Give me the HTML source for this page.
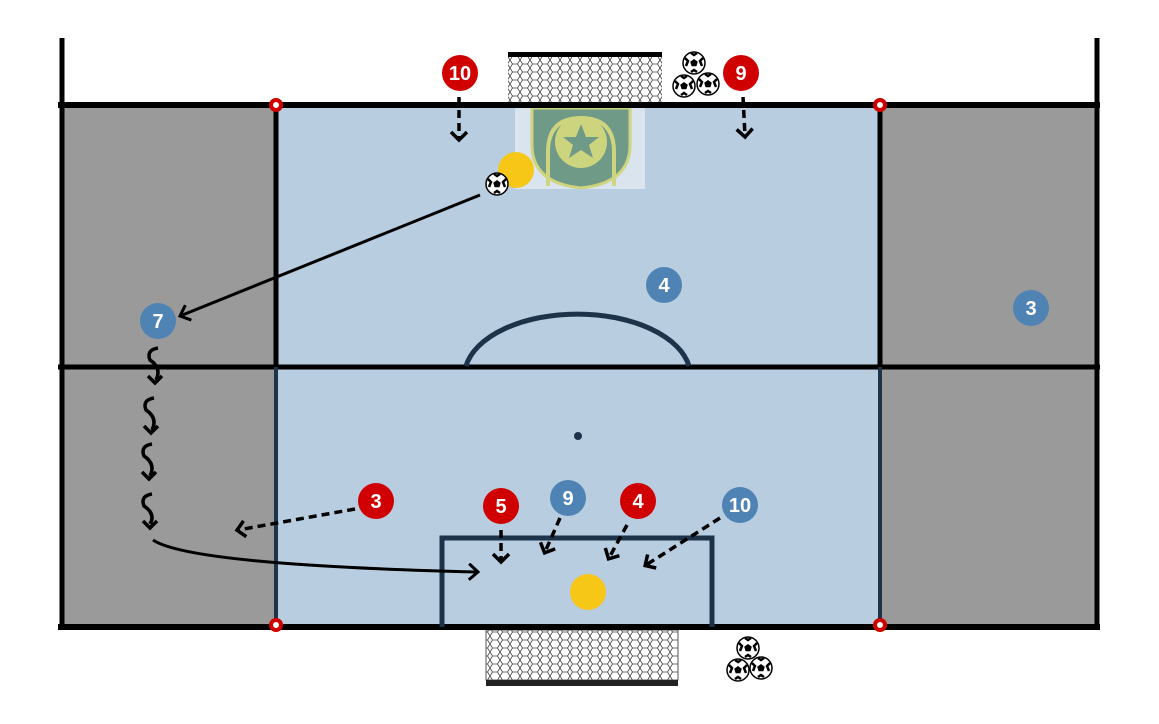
<!DOCTYPE html>
<html><head><meta charset="utf-8"><style>
html,body{margin:0;padding:0;background:#fff;}
svg{display:block;}
text{font-family:"Liberation Sans",sans-serif;font-weight:bold;fill:#fff;text-anchor:middle;}
</style></head><body>
<svg width="1159" height="724" viewBox="0 0 1159 724" xmlns="http://www.w3.org/2000/svg">
<defs>
<pattern id="net" width="10" height="8" patternUnits="userSpaceOnUse">
<rect width="10" height="8" fill="#fff"/>
<path d="M0 4 L2.5 0 L7.5 0 L10 4 L7.5 8 L2.5 8 Z" fill="none" stroke="#444" stroke-width="0.8"/>
</pattern>
<marker id="chev" markerWidth="20" markerHeight="20" refX="9" refY="10" orient="auto" markerUnits="userSpaceOnUse">
<path d="M2 2 L10 10 L2 18" fill="none" stroke="#000" stroke-width="3.5"/>
</marker>
<marker id="arr" markerWidth="18" markerHeight="18" refX="11" refY="9" orient="auto" markerUnits="userSpaceOnUse">
<path d="M2 1 L11 9 L2 17" fill="none" stroke="#000" stroke-width="3"/>
</marker>
<g id="ball">
<circle r="11" fill="#fff" stroke="#000" stroke-width="1.5"/>
<polygon points="0,-4 3.8,-1.2 2.4,3.2 -2.4,3.2 -3.8,-1.2" fill="#000"/>
<path d="M-9 -5 L-6 -2 L-8 3 M9 -5 L6 -2 L8 3 M-3 9 L0 7 L3 9 M-3 -10 L0 -8 L3 -10" fill="none" stroke="#000" stroke-width="2.5"/>
</g>
</defs>
<rect x="60" y="104" width="1038" height="523" fill="#9a9a9a"/>
<rect x="276" y="104" width="604" height="523" fill="#b8cde0"/>
<!-- logo -->
<rect x="515" y="108" width="130" height="81" fill="#d9e4ee"/>
<path d="M532 108 L630 108 L630 145 Q630 183 581 188 Q532 183 532 145 Z" fill="#6f9a88" stroke="#cfd47e" stroke-width="3"/>
<path d="M548 186 L548 152 Q548 118 581 118 Q614 118 614 152 L614 186" fill="none" stroke="#cfd47e" stroke-width="4"/>
<circle cx="581" cy="142" r="26" fill="#cdd47e"/>
<polygon points="581,124 586,137 599,137 589,145 593,158 581,150 569,158 573,145 563,137 576,137" fill="#6f9a88"/>
<rect x="508" y="55" width="154" height="49" fill="url(#net)"/>
<rect x="508" y="52" width="154" height="5" fill="#000"/>
<rect x="486" y="630" width="192" height="50" fill="url(#net)" stroke="#555" stroke-width="1"/>
<rect x="486" y="680" width="192" height="6" fill="#222"/>
<line x1="62" y1="38" x2="62" y2="630" stroke="#000" stroke-width="5"/>
<line x1="1097" y1="38" x2="1097" y2="630" stroke="#000" stroke-width="5"/>
<line x1="58" y1="105" x2="1100" y2="105" stroke="#000" stroke-width="6"/>
<line x1="58" y1="627" x2="1100" y2="627" stroke="#000" stroke-width="6"/>
<line x1="58" y1="367" x2="1100" y2="367" stroke="#000" stroke-width="5"/>
<line x1="276" y1="104" x2="276" y2="367" stroke="#000" stroke-width="5"/>
<line x1="880" y1="104" x2="880" y2="367" stroke="#000" stroke-width="5"/>
<line x1="276" y1="367" x2="276" y2="627" stroke="#1c3349" stroke-width="4"/>
<line x1="880" y1="367" x2="880" y2="627" stroke="#1c3349" stroke-width="4"/>
<path d="M466 366 A113 62 0 0 1 689 366" fill="none" stroke="#1c3349" stroke-width="5"/>
<circle cx="578" cy="436" r="4" fill="#1c3349"/>
<path d="M442 627 L442 538 L712 538 L712 627" fill="none" stroke="#1c3349" stroke-width="5"/>
<g fill="#fff" stroke="#d00000" stroke-width="4">
<circle cx="276" cy="105" r="5"/><circle cx="880" cy="105" r="5"/>
<circle cx="276" cy="625" r="5"/><circle cx="880" cy="625" r="5"/>
</g>
<circle cx="516" cy="170" r="18" fill="#f7c717"/>
<circle cx="588" cy="592" r="18" fill="#f7c717"/>
<use href="#ball" x="497" y="184"/>
<use href="#ball" x="694" y="63"/>
<use href="#ball" x="684" y="86"/>
<use href="#ball" x="708" y="84"/>
<use href="#ball" x="748" y="648"/>
<use href="#ball" x="738" y="670"/>
<use href="#ball" x="761" y="668"/>
<g stroke="#000" stroke-width="3" fill="none">
<line x1="480" y1="195" x2="180" y2="316" marker-end="url(#arr)"/>
<path d="M153 540 Q190 565 478 572" marker-end="url(#arr)"/>
</g>
<g stroke="#000" stroke-width="3.5" fill="none" stroke-dasharray="8,5">
<line x1="459" y1="97" x2="459" y2="139" marker-end="url(#chev)"/>
<line x1="743" y1="97" x2="745" y2="136" marker-end="url(#chev)"/>
<line x1="355" y1="509" x2="238" y2="530" marker-end="url(#chev)"/>
<line x1="501" y1="530" x2="501" y2="561" marker-end="url(#chev)"/>
<line x1="560" y1="518" x2="545" y2="552" marker-end="url(#chev)"/>
<line x1="627" y1="525" x2="609" y2="558" marker-end="url(#chev)"/>
<line x1="720" y1="518" x2="646" y2="565" marker-end="url(#chev)"/>
</g>
<g stroke="#000" stroke-width="3.5" fill="none">
<path d="M158 348 Q146 350 150 360 Q162 368 156 380"/><path d="M148 376 L155 383 L162 376"/>
<path d="M154 398 Q142 400 146 410 Q158 418 152 430"/><path d="M144 426 L151 433 L158 426"/>
<path d="M152 444 Q140 446 144 456 Q156 464 150 476"/><path d="M142 472 L149 479 L156 472"/>
<path d="M152 494 Q140 496 144 506 Q156 514 150 524"/><path d="M143 521 L150 528 L157 521"/>
</g>
<g font-size="20">
<circle cx="460" cy="73" r="18" fill="#d00000"/><text x="460" y="80">10</text>
<circle cx="741" cy="73" r="18" fill="#d00000"/><text x="741" y="80">9</text>
<circle cx="664" cy="285" r="18" fill="#4e83b4"/><text x="664" y="292">4</text>
<circle cx="1031" cy="308" r="18" fill="#4e83b4"/><text x="1031" y="315">3</text>
<circle cx="158" cy="321" r="18" fill="#4e83b4"/><text x="158" y="328">7</text>
<circle cx="376" cy="501" r="18" fill="#d00000"/><text x="376" y="508">3</text>
<circle cx="501" cy="506" r="18" fill="#d00000"/><text x="501" y="513">5</text>
<circle cx="568" cy="498" r="18" fill="#4e83b4"/><text x="568" y="505">9</text>
<circle cx="638" cy="501" r="18" fill="#d00000"/><text x="638" y="508">4</text>
<circle cx="740" cy="505" r="18" fill="#4e83b4"/><text x="740" y="512">10</text>
</g>
</svg>
</body></html>
